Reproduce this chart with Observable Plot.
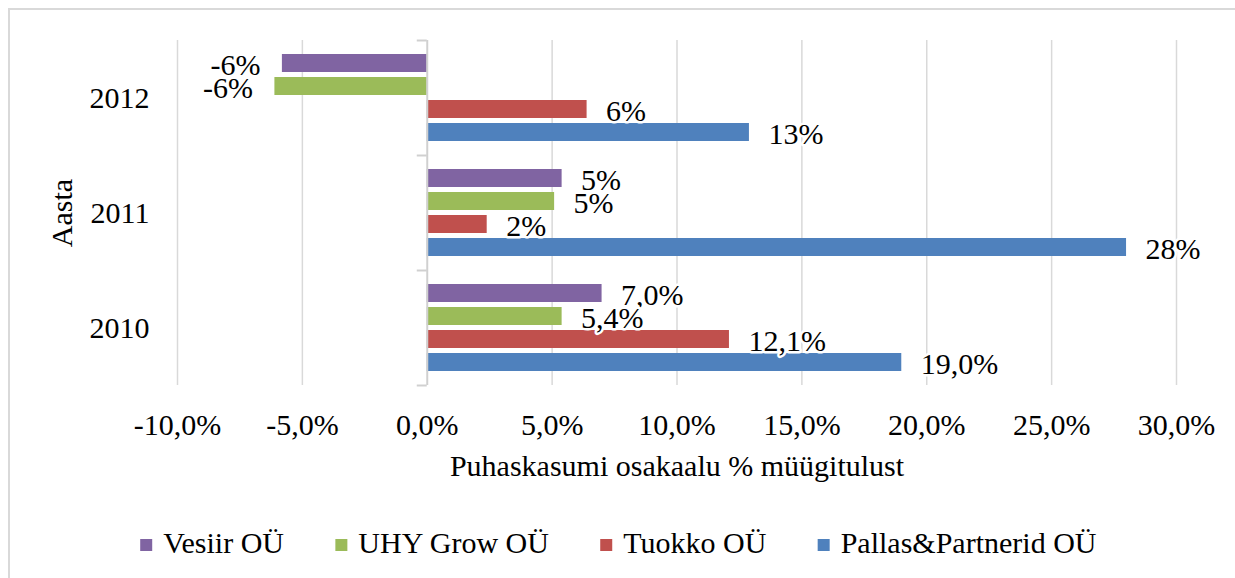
<!DOCTYPE html>
<html>
<head>
<meta charset="utf-8">
<script src="https://cdn.jsdelivr.net/npm/d3@7"></script>
<script src="https://cdn.jsdelivr.net/npm/@observablehq/plot@0.6"></script>
<style>
  html, body { margin: 0; padding: 0; background: #fff; }
  body { width: 1235px; height: 578px; position: relative; overflow: hidden; }
  #frame { position: absolute; left: 8px; top: 8px; width: 1260px; height: 620px; border: 2px solid #d9d9d9; box-sizing: border-box; }
  #chart { position: absolute; left: 0; top: 0; }
  #legend { position: absolute; left: 0; top: 0; }
</style>
</head>
<body>
<div id="frame"></div>
<div id="chart"></div>
<div id="legend"></div>
<script>
const years = ["2012", "2011", "2010"];
const companies = ["Vesiir OÜ", "UHY Grow OÜ", "Tuokko OÜ", "Pallas&Partnerid OÜ"];
const colors = ["#8064A2", "#9BBB59", "#C0504D", "#4F81BD"];

const vesiir = [-5.8, 5.4, 7.0];
const uhyGrow = [-6.1, 5.1, 5.4];
const tuokko = [6.4, 2.4, 12.1];
const pallas = [12.9, 28.0, 19.0];

const vesiirLabels = ["-6%", "5%", "7,0%"];
const uhyGrowLabels = ["-6%", "5%", "5,4%"];
const tuokkoLabels = ["6%", "2%", "12,1%"];
const pallasLabels = ["13%", "28%", "19,0%"];

const xTicks = [-10, -5, 0, 5, 10, 15, 20, 25, 30];
const xTickLabels = ["-10,0%", "-5,0%", "0,0%", "5,0%", "10,0%", "15,0%", "20,0%", "25,0%", "30,0%"];

const xTitle = "Puhaskasumi osakaalu % müügitulust";
const yTitle = "Aasta";

const FONT = "'Liberation Serif', 'Times New Roman', serif";

const series = [vesiir, uhyGrow, tuokko, pallas];
const seriesLabels = [vesiirLabels, uhyGrowLabels, tuokkoLabels, pallasLabels];
const rows = [];
companies.forEach((c, ci) => {
  years.forEach((y, yi) => {
    rows.push({company: c, year: y, value: series[ci][yi], label: seriesLabels[ci][yi]});
  });
});

const chart = Plot.plot({
  width: 1235,
  height: 500,
  marginLeft: 177,
  marginRight: 59,
  marginTop: 39,
  marginBottom: 114,
  style: {fontFamily: FONT, fontSize: "30px", color: "#000", background: "transparent", overflow: "visible"},
  x: {
    domain: [-10, 30],
    ticks: xTicks,
    tickFormat: d => xTickLabels[xTicks.indexOf(d)],
    tickSize: 0,
    tickPadding: 28,
    label: xTitle,
    labelAnchor: "center",
    labelArrow: "none",
    labelOffset: 90
  },
  y: {domain: companies, paddingInner: 0.23, paddingOuter: 0.6, axis: null},
  fy: {
    domain: years,
    padding: 0,
    axis: "left",
    tickSize: 0,
    tickPadding: 28,
    label: yTitle,
    labelAnchor: "center",
    labelOffset: 127
  },
  color: {domain: companies, range: colors},
  marks: [
    Plot.gridX(xTicks.filter(d => d !== 0), {stroke: "#d9d9d9", strokeOpacity: 1, strokeWidth: 1.5}),
    Plot.barX(rows, {x: "value", y: "company", fy: "year", fill: "company"}),
    Plot.ruleX([0], {stroke: "#d0d0d0", strokeWidth: 2}),
    Plot.ruleY(years, {fy: d => d, y: () => companies[0], x1: -0.4, x2: 0, dy: -23, stroke: "#d0d0d0", strokeWidth: 2}),
    Plot.ruleY([years[years.length - 1]], {fy: d => d, y: () => companies[companies.length - 1], x1: -0.4, x2: 0, dy: 23, stroke: "#d0d0d0", strokeWidth: 2}),
    Plot.text(rows.filter(d => d.value >= 0), {x: "value", y: "company", fy: "year", text: "label", textAnchor: "start", dx: 19, dy: 2, fill: "#000", stroke: "#fff", strokeWidth: 5, paintOrder: "stroke"}),
    Plot.text(rows.filter(d => d.value < 0), {x: "value", y: "company", fy: "year", text: "label", textAnchor: "end", dx: -22, dy: 2, fill: "#000", stroke: "#fff", strokeWidth: 5, paintOrder: "stroke"})
  ]
});
document.getElementById("chart").appendChild(chart);

// Legend drawn as SVG below the plot, laid out from measured text widths
const legendSvg = d3.select("#legend").append("svg")
  .attr("width", 1235).attr("height", 578)
  .style("font-family", FONT).style("font-size", "30px");
const swatch = 12, swGap = 11, itemGap = 51, baseline = 553;
const groups = legendSvg.selectAll("g").data(companies).join("g");
groups.append("rect").attr("width", swatch).attr("height", swatch)
  .attr("y", baseline - 14).attr("fill", (d, i) => colors[i]);
groups.append("text").attr("x", swatch + swGap).attr("y", baseline)
  .attr("fill", "#000").text(d => d);
const widths = groups.nodes().map(g => g.getBBox().width);
const total = d3.sum(widths) + itemGap * (widths.length - 1);
let cx = (1237 - total) / 2;
groups.attr("transform", (d, i) => {
  const t = `translate(${cx},0)`;
  cx += widths[i] + itemGap;
  return t;
});
</script>
</body>
</html>
